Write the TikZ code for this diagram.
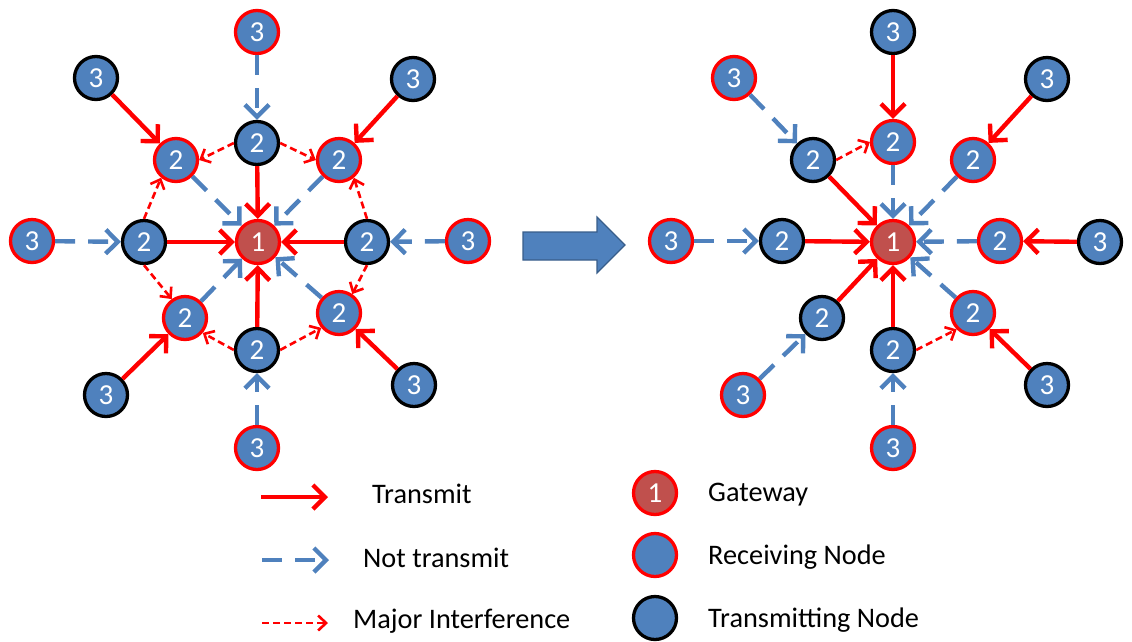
\documentclass[tikz,border=0pt]{standalone}
\usepackage{fontspec}
\setmainfont{Carlito}
\usetikzlibrary{arrows.meta}

\definecolor{nodeblue}{HTML}{4F81BD}
\definecolor{gwred}{HTML}{C0504D}
\definecolor{linkred}{HTML}{FF0000}
\definecolor{arrowedge}{HTML}{385D8A}

\tikzset{
  netnode/.style={circle, minimum size=43pt, inner sep=0pt, line width=3.3pt,
    fill=nodeblue, text=white, font=\fontsize{29}{29}\selectfont},
  gateway/.style={netnode, fill=gwred, draw=linkred},
  rxnode/.style={netnode, draw=linkred},
  txnode/.style={netnode, draw=black},
  transmit/.style={draw=linkred, line width=4.4pt,
    -{Straight Barb[length=12pt,width=24pt]}},
  idle/.style={draw=nodeblue, line width=4.4pt, dash pattern=on 20pt off 13pt,
    -{Straight Barb[length=12pt,width=24pt]}},
  interf/.style={draw=linkred, line width=2.6pt, dash pattern=on 7pt off 4pt,
    -{Straight Barb[length=8pt,width=15pt]}},
  legtext/.style={anchor=base west, inner sep=0pt, font=\fontsize{28.3}{32}\selectfont},
}

\begin{document}
\begin{tikzpicture}[x=1pt, y=-1pt]
\useasboundingbox (0,0) rectangle (1132,641);

% ---------- before: all ring-2 transmitters active ----------
\node[gateway] (Lg) at (258,242) {1};
\node[txnode] (Lt2)  at (257,143) {2};
\node[rxnode] (Lul2) at (176,160) {2};
\node[rxnode] (Lur2) at (339,160) {2};
\node[txnode] (Ll2)  at (144,242) {2};
\node[txnode] (Lr2)  at (367,242) {2};
\node[rxnode] (Lll2) at (185,318) {2};
\node[rxnode] (Llr2) at (339,313) {2};
\node[txnode] (Lb2)  at (257,350) {2};
\node[rxnode] (Lt3)  at (257,32)  {3};
\node[txnode] (Lul3) at (96,78)   {3};
\node[txnode] (Lur3) at (413,79)  {3};
\node[rxnode] (Ll3)  at (32,241)  {3};
\node[rxnode] (Lr3)  at (468,241) {3};
\node[txnode] (Lll3) at (106,395) {3};
\node[txnode] (Llr3) at (414,385) {3};
\node[rxnode] (Lb3)  at (257,448) {3};

\draw[transmit] (Lul3) -- (Lul2);
\draw[transmit] (Lur3) -- (Lur2);
\draw[transmit] (Lll3) -- (Lll2);
\draw[transmit] (Llr3) -- (Llr2);
\draw[transmit] (Lt2) -- (Lg);
\draw[transmit] (Ll2) -- (Lg);
\draw[transmit] (Lr2) -- (Lg);
\draw[transmit] (Lb2) -- (Lg);

\draw[idle] (Lt3) -- (Lt2);
\draw[idle] (Ll3) -- (Ll2);
\draw[idle] (Lr3) -- (Lr2);
\draw[idle] (Lb3) -- (Lb2);
\draw[idle] (Lul2) -- (Lg);
\draw[idle] (Lur2) -- (Lg);
\draw[idle] (Lll2) -- (Lg);
\draw[idle] (Llr2) -- (Lg);

\draw[interf] (Lt2.west)  -- (Lul2.east);
\draw[interf] (Lt2.east)  -- (Lur2.west);
\draw[interf] (Ll2.north) -- (Lul2.230);
\draw[interf] (Ll2.south) -- (Lll2.125);
\draw[interf] (Lr2.north) -- (Lur2.310);
\draw[interf] (Lr2.south) -- (Llr2.55);
\draw[interf] (Lb2.west)  -- (Lll2.-40);
\draw[interf] (Lb2.east)  -- (Llr2.220);

% ---------- block arrow ----------
\filldraw[fill=nodeblue, draw=arrowedge, line width=1.2pt, line join=miter]
  (523,232) -- (597,232) -- (597,217) -- (625,245) -- (597,273) -- (597,260) -- (523,260) -- cycle;

% ---------- after: alternating schedule ----------
\node[gateway] (Rg) at (893,242) {1};
\node[rxnode] (Rt2)  at (893,142) {2};
\node[txnode] (Rul2) at (813,160) {2};
\node[rxnode] (Rur2) at (973,160) {2};
\node[txnode] (Rl2)  at (782,241) {2};
\node[rxnode] (Rr2)  at (1000,241) {2};
\node[txnode] (Rll2) at (822,318) {2};
\node[rxnode] (Rlr2) at (973,313) {2};
\node[txnode] (Rb2)  at (893,350) {2};
\node[txnode] (Rt3)  at (893,32)  {3};
\node[rxnode] (Rul3) at (734,78)  {3};
\node[txnode] (Rur3) at (1047,79) {3};
\node[rxnode] (Rl3)  at (671,241) {3};
\node[txnode] (Rr3)  at (1100,242) {3};
\node[rxnode] (Rll3) at (743,395) {3};
\node[txnode] (Rlr3) at (1047,385) {3};
\node[rxnode] (Rb3)  at (893,448) {3};

\draw[transmit] (Rt3) -- (Rt2);
\draw[transmit] (Rur3) -- (Rur2);
\draw[transmit] (Rr3) -- (Rr2);
\draw[transmit] (Rlr3) -- (Rlr2);
\draw[transmit] (Rul2) -- (Rg);
\draw[transmit] (Rl2) -- (Rg);
\draw[transmit] (Rll2) -- (Rg);
\draw[transmit] (Rb2) -- (Rg);

\draw[idle] (Rul3) -- (Rul2);
\draw[idle] (Rl3) -- (Rl2);
\draw[idle] (Rll3) -- (Rll2);
\draw[idle] (Rb3) -- (Rb2);
\draw[idle] (Rt2) -- (Rg);
\draw[idle] (Rur2) -- (Rg);
\draw[idle] (Rr2) -- (Rg);
\draw[idle] (Rlr2) -- (Rg);

\draw[interf] (Rul2.east) -- (Rt2.west);
\draw[interf] (Rb2.east)  -- (Rlr2.225);

% ---------- legend ----------
\coordinate (k1a) at (261,497); \coordinate (k1b) at (328,497);
\coordinate (k2a) at (262,560); \coordinate (k2b) at (329,560);
\coordinate (k3a) at (262,623); \coordinate (k3b) at (328,623);
\draw[transmit] (k1a) -- (k1b);
\draw[idle]     (k2a) -- (k2b);
\draw[interf]   (k3a) -- (k3b);
\node[legtext] (t1) at (372,503) {Transmit};
\node[legtext] (t2) at (363,567) {Not transmit};
\node[legtext] (t3) at (353,628) {Major Interference};

\node[gateway] (kg) at (655,493) {1};
\node[rxnode]  (kr) at (655,555) {};
\node[txnode]  (kt) at (655,618) {};
\node[legtext] (t4) at (708,501) {Gateway};
\node[legtext] (t5) at (708,564) {Receiving Node};
\node[legtext] (t6) at (708,627) {Transmitting Node};
\end{tikzpicture}
\end{document}
